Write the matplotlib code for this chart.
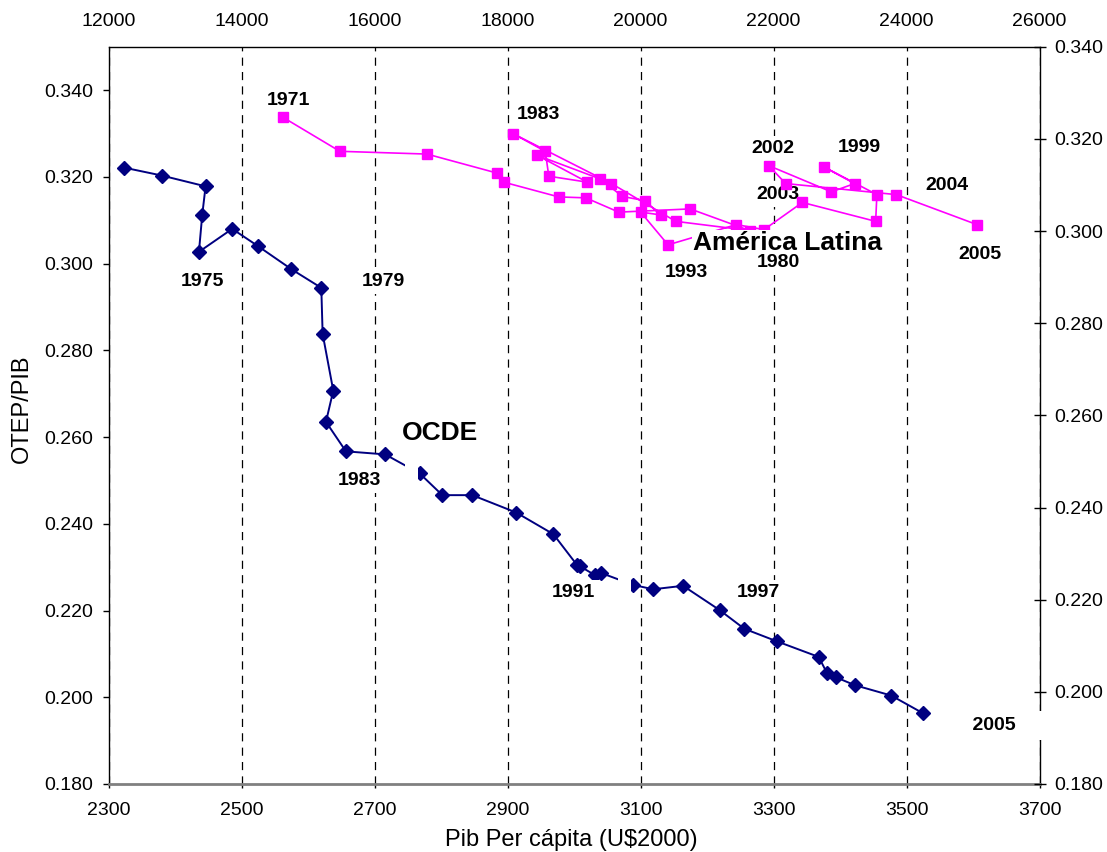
import matplotlib
matplotlib.use("Agg")
import matplotlib.pyplot as plt
from matplotlib.ticker import FormatStrFormatter

plt.rcParams['font.family'] = ['Liberation Sans', 'DejaVu Sans']

# OCDE: Pib per cápita (bottom axis) vs OTEP/PIB (left axis), 1971-2005
ocde_years = list(range(1971, 2006))
ocde_pib = [2324, 2380, 2446, 2441, 2436, 2486, 2525, 2575, 2620, 2622,
            2638, 2627, 2657, 2716, 2768, 2802, 2847, 2913, 2969, 3005,
            3009, 3031, 3040, 3089, 3119, 3164, 3219, 3256, 3305, 3368,
            3380, 3394, 3422, 3477, 3525]
ocde_int = [0.3221, 0.3203, 0.3178, 0.3113, 0.3027, 0.3080, 0.3040, 0.2987, 0.2944, 0.2838,
            0.2707, 0.2635, 0.2567, 0.2560, 0.2516, 0.2466, 0.2466, 0.2426, 0.2376, 0.2304,
            0.2302, 0.2282, 0.2287, 0.2259, 0.2249, 0.2257, 0.2201, 0.2158, 0.2129, 0.2093,
            0.2057, 0.2046, 0.2028, 0.2004, 0.1963]

# América Latina: top axis vs right axis, 1971-2005
al_years = list(range(1971, 2006))
al_pib = [14621, 15479, 16789, 17836, 17944, 18771, 19177, 19673, 20747, 21642,
          20530, 19563, 18087, 18568, 18621, 19202, 18451, 19395, 19728, 20064,
          20304, 20003, 20414, 21442, 21857, 22434, 23536, 23555, 22759, 23220,
          22870, 21927, 22183, 23847, 25058]
al_int = [0.3247, 0.3173, 0.3167, 0.3126, 0.3106, 0.3074, 0.3072, 0.3041, 0.3048, 0.3001,
          0.3021, 0.3103, 0.3211, 0.3173, 0.3119, 0.3106, 0.3164, 0.3113, 0.3075, 0.3066,
          0.3035, 0.3041, 0.2970, 0.3014, 0.3003, 0.3062, 0.3021, 0.3079, 0.3139, 0.3103,
          0.3085, 0.3142, 0.3103, 0.3079, 0.3014]

x_ticks = list(range(2300, 3701, 200))
x2_ticks = list(range(12000, 26001, 2000))
y_ticks = [0.18 + 0.02 * i for i in range(9)]

# year labels and their offsets (points)
ocde_labels = {1975: (2.5, -21.6), 1979: (45, 4.3), 1983: (10, -21),
               1991: (-5, -18.7), 1997: (28, 13), 2005: (51, -9)}
al_labels = {1971: (4.3, 12.2), 1983: (18.4, 14.2), 1980: (20.7, -23.3),
             1993: (13.1, -19.7), 1999: (25.7, 13.7), 2002: (3.1, 12.5),
             2003: (-5.3, -8.1), 2004: (36.1, 6.5), 2005: (2.3, -21.8)}

W, H = 1107, 852
fig = plt.figure(figsize=(W / 100, H / 100), dpi=100)
rect = [108.5 / W, 1 - 784 / H, (1039.5 - 108.5) / W, (784 - 46.7) / H]
ax = fig.add_axes(rect)
ax2 = fig.add_axes(rect, label='al')

# OCDE axes
ax.plot(ocde_pib, ocde_int, color='#000080', lw=1.4, marker='D', ms=7.5,
        mec='#000080', mfc='#000080', zorder=3)
ax.set_xlim(2300, 3700)
ax.set_ylim(0.18, 0.35)
ax.set_xticks(x_ticks)
ax.set_yticks(y_ticks)
ax.yaxis.set_major_formatter(FormatStrFormatter('%.3f'))
ax.grid(axis='x', color='black', lw=0.9, linestyle=(0, (6.5, 5)))
ax.grid(axis='y', visible=False)
ax.tick_params(axis='y', direction='out', length=4, width=1, pad=7, labelsize=14)
ax.tick_params(axis='x', direction='out', length=3, width=1, pad=10, labelsize=14)
for s in ['left', 'top', 'right']:
    ax.spines[s].set_color('black')
    ax.spines[s].set_linewidth(1)
ax.spines['bottom'].set_color('#808080')
ax.spines['bottom'].set_linewidth(2)

bx = dict(boxstyle='square,pad=0.2', fc='white', ec='none')
for yr, (dx, dy) in ocde_labels.items():
    i = ocde_years.index(yr)
    txt = str(yr)
    box = bx
    if yr == 2005:
        txt = '    2005    '
        box = dict(boxstyle='square,pad=0.3', fc='white', ec='none')
    ax.annotate(txt, xy=(ocde_pib[i], ocde_int[i]), xytext=(dx, dy),
                textcoords='offset points', ha='center', va='center',
                fontsize=14, fontweight='bold', bbox=box, zorder=5,
                annotation_clip=False)
# empty label boxes that cut the OCDE line
for yr in [1985, 1994]:
    i = ocde_years.index(yr)
    ax.annotate(' ', xy=(ocde_pib[i], ocde_int[i]), xytext=(-6, 1),
                textcoords='offset points', ha='center', va='center',
                fontsize=13.5, fontweight='bold', bbox=bx, zorder=5)
ax.text(2798, 0.2610, 'OCDE', fontsize=19, fontweight='bold',
        ha='center', va='center', zorder=5)

# América Latina axes
ax2.patch.set_visible(False)
for s in ax2.spines.values():
    s.set_visible(False)
ax2.plot(al_pib, al_int, color='#FF00FF', lw=1.2, marker='s', ms=7,
         mec='#FF00FF', mfc='#FF00FF', zorder=3)
ax2.set_xlim(12000, 26000)
ax2.set_ylim(0.18, 0.34)
ax2.set_xticks(x2_ticks)
ax2.set_yticks(y_ticks)
ax2.yaxis.set_major_formatter(FormatStrFormatter('%.3f'))
ax2.xaxis.set_ticks_position('top')
ax2.yaxis.set_ticks_position('right')
ax2.tick_params(axis='x', top=True, bottom=False, labeltop=True, labelbottom=False,
                length=0, pad=12, labelsize=14)
ax2.tick_params(axis='y', right=True, left=False, labelright=True, labelleft=False,
                direction='inout', length=8.6, width=1, pad=6, labelsize=14)

ax2.text(22208, 0.2974, 'América Latina', fontsize=19, fontweight='bold',
         ha='center', va='center', zorder=4,
         bbox=dict(boxstyle='square,pad=0.05', fc='white', ec='none'))
for yr, (dx, dy) in al_labels.items():
    i = al_years.index(yr)
    z = 4.5 if yr == 1980 else 2.5
    ax2.annotate(str(yr), xy=(al_pib[i], al_int[i]), xytext=(dx, dy),
                 textcoords='offset points', ha='center', va='center',
                 fontsize=14, fontweight='bold', bbox=bx, zorder=z)

fig.text(22.3 / W, 1 - 409 / H, 'OTEP/PIB', rotation=90, fontsize=17,
         ha='center', va='center')
fig.text(571.5 / W, 1 - 840 / H, 'Pib Per cápita (U$2000)', fontsize=17,
         ha='center', va='center')

fig.savefig('out.png', dpi=100)
